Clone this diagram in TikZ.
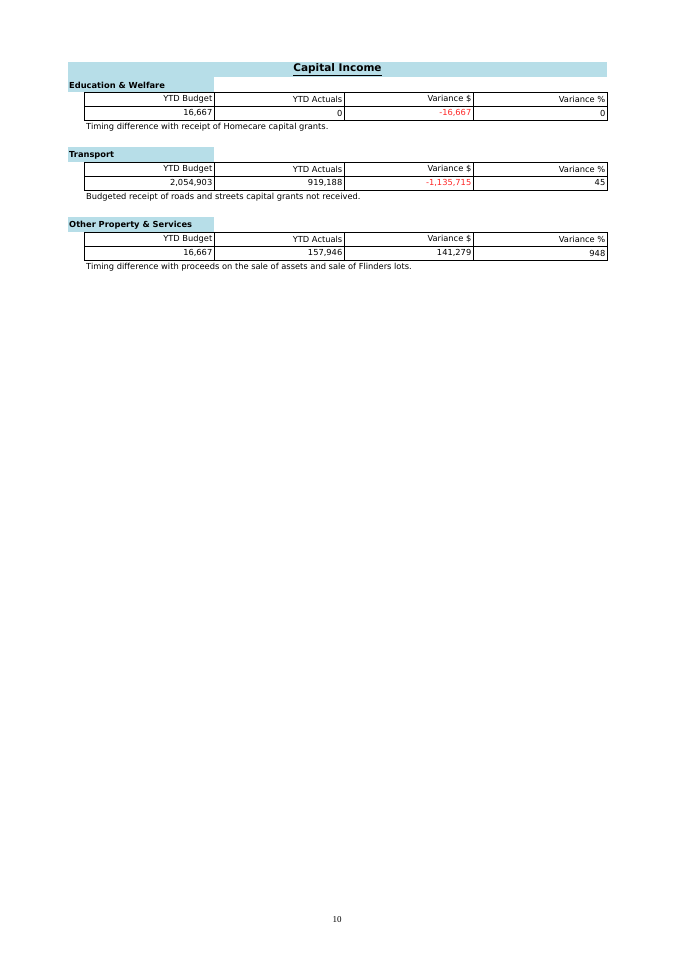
\documentclass[tikz,border=0pt]{standalone}
\usepackage{fontspec}
\setmainfont{DejaVu Sans}
\newfontfamily\serifpn{Liberation Serif}
\definecolor{band}{RGB}{183,222,232}
\definecolor{negred}{RGB}{255,40,40}
\begin{document}
\begin{tikzpicture}[x=1pt,y=-1pt,
  cell/.style={font=\fontsize{8.3}{9}\selectfont,anchor=east,inner sep=1.5pt},
  hdr/.style={font=\fontsize{8.3}{9}\selectfont\bfseries,anchor=west,inner sep=1pt},
  note/.style={font=\fontsize{8.3}{9}\selectfont,anchor=west,inner sep=0pt}]
\useasboundingbox (0,0) rectangle (675,954);
\fill[band] (68,62) rectangle (607,77);
\node[font=\fontsize{10.5}{12}\selectfont\bfseries] (title) at (337.5,69.5) {\underline{Capital Income}};
\newcommand\sect[5]{%
  \fill[band] (68,#1-15) rectangle (214,#1);
  \node[hdr] (h#5) at (68,#1-7) {#2};
  \draw[line width=0.9pt] (84,#1) rectangle (607,#1+28);
  \draw[line width=0.9pt] (84,#1+14) -- (607,#1+14);
  \foreach \xx in {214,344,473} \draw[line width=0.9pt] (\xx,#1) -- (\xx,#1+28);
  \node[cell] at (214,#1+7) {YTD Budget};
  \node[cell] at (344,#1+7) {YTD Actuals};
  \node[cell] at (473,#1+7) {Variance \$};
  \node[cell] at (607,#1+7) {Variance \%};
  #3
  \node[note] (n#5) at (86,#1+35) {#4};}
\sect{92}{Education \& Welfare}{%
  \node[cell] at (214,99+14) {16,667};
  \node[cell] at (344,99+14) {0};
  \node[cell,text=negred] at (473,99+14) {-16,667};
  \node[cell] at (607,99+14) {0};}{Timing difference with receipt of Homecare capital grants.}{a}
\sect{162}{Transport}{%
  \node[cell] at (214,183) {2,054,903};
  \node[cell] at (344,183) {919,188};
  \node[cell,text=negred] at (473,183) {-1,135,715};
  \node[cell] at (607,183) {45};}{Budgeted receipt of roads and streets capital grants not received.}{b}
\sect{232}{Other Property \& Services}{%
  \node[cell] at (214,253) {16,667};
  \node[cell] at (344,253) {157,946};
  \node[cell] at (473,253) {141,279};
  \node[cell] at (607,253) {948};}{Timing difference with proceeds on the sale of assets and sale of Flinders lots.}{c}
\node[font=\serifpn\fontsize{9}{10}\selectfont] (pg) at (337,920) {10};
\end{tikzpicture}
\end{document}
